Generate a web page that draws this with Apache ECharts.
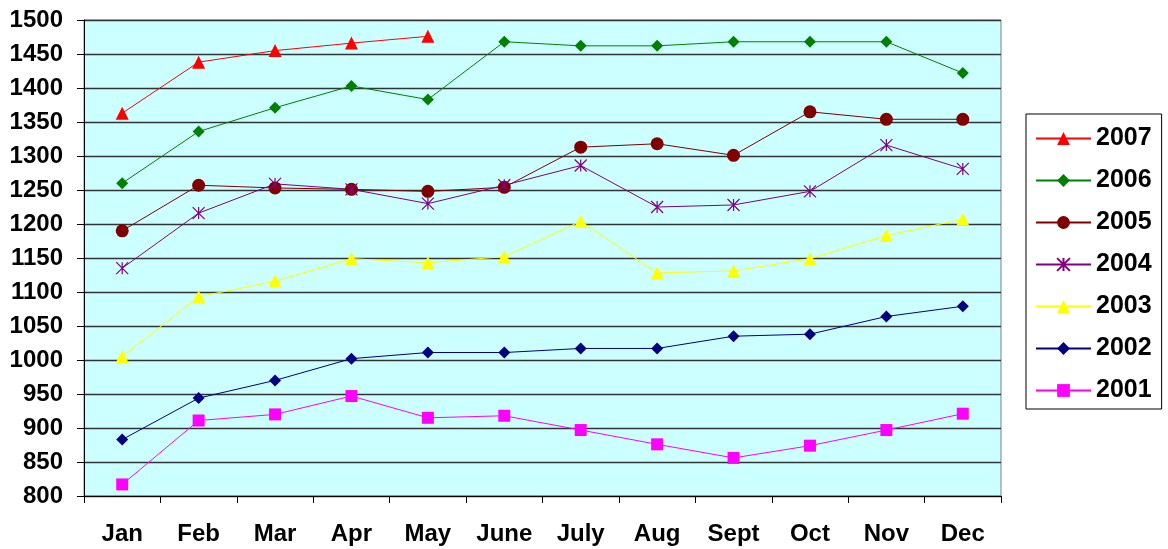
<!DOCTYPE html>
<html>
<head>
<meta charset="utf-8">
<script src="https://cdn.jsdelivr.net/npm/echarts@6/dist/echarts.min.js"></script>
<style>
  html, body { margin: 0; padding: 0; background: #fff; }
  #chart { width: 1168px; height: 549px; }
</style>
</head>
<body>
<div id="chart"></div>
<script>
// Monthly values per year
const months = ['Jan', 'Feb', 'Mar', 'Apr', 'May', 'June', 'July', 'Aug', 'Sept', 'Oct', 'Nov', 'Dec'];
const y2001 = [817, 911, 920, 947, 915, 918, 897, 876, 856, 874, 897, 921];
const y2002 = [883, 944, 970, 1002, 1011, 1011, 1017, 1017, 1035, 1038, 1064, 1079];
const y2003 = [1005, 1093, 1116, 1149, 1143, 1152, 1204, 1128, 1131, 1149, 1183, 1207];
const y2004 = [1135, 1216, 1259, 1251, 1230, 1257, 1286, 1225, 1228, 1248, 1316, 1281];
const y2005 = [1190, 1257, 1253, 1251, 1248, 1254, 1313, 1318, 1301, 1365, 1354, 1354];
const y2006 = [1260, 1336, 1371, 1403, 1383, 1468, 1462, 1462, 1468, 1468, 1468, 1422];
const y2007 = [1363, 1438, 1455, 1466, 1476];
const yTicks = { min: 800, max: 1500, step: 50 };

const font = '"Liberation Sans", Arial, sans-serif';
const asterisk = 'path://M0,0L12,12M12,0L0,12M6,0L6,12';

function lineSeries(name, data, color, symbol, size, extra) {
  return Object.assign({
    name: name,
    type: 'line',
    data: data,
    symbol: symbol,
    symbolSize: size,
    showAllSymbol: true,
    lineStyle: { color: color, width: 1 },
    itemStyle: { color: color },
    emphasis: { disabled: true },
    animation: false
  }, extra || {});
}

const series = [
  lineSeries('2001', y2001, '#FF00FF', 'rect', 12),
  lineSeries('2002', y2002, '#000080', 'diamond', 12),
  lineSeries('2003', y2003, '#FFFF00', 'triangle', 13),
  lineSeries('2005', y2005, '#800000', 'circle', 13),
  lineSeries('2004', y2004, '#800080', asterisk, 12,
    { itemStyle: { color: '#800080', borderColor: '#800080', borderWidth: 1.2 } }),
  lineSeries('2006', y2006, '#008000', 'diamond', 12),
  lineSeries('2007', y2007, '#FF0000', 'triangle', 13)
];

const chart = echarts.init(document.getElementById('chart'), null, { renderer: 'canvas' });
chart.setOption({
  animation: false,
  grid: {
    left: 84, right: 167, top: 20, bottom: 53,
    show: true,
    backgroundColor: '#CCFFFF',
    borderColor: '#808080',
    borderWidth: 1
  },
  legend: {
    orient: 'vertical',
    left: 1026,
    top: 114,
    width: 132,
    padding: [12, 10, 6, 9],
    itemGap: 17,
    itemWidth: 55,
    itemHeight: 16,
    borderColor: '#000',
    borderWidth: 1,
    backgroundColor: '#fff',
    data: ['2007', '2006', '2005', '2004', '2003', '2002', '2001'],
    textStyle: { fontFamily: font, fontSize: 25, fontWeight: 'bold', color: '#000' }
  },
  xAxis: {
    type: 'category',
    data: months,
    boundaryGap: true,
    axisLine: { lineStyle: { color: '#000', width: 1 } },
    axisTick: { show: true, length: 7, lineStyle: { color: '#000' } },
    axisLabel: { fontFamily: font, fontSize: 24, fontWeight: 'bold', color: '#000', margin: 26 },
    splitLine: { show: false }
  },
  yAxis: {
    type: 'value',
    min: yTicks.min,
    max: yTicks.max,
    interval: yTicks.step,
    axisLine: { show: true, lineStyle: { color: '#000', width: 1 } },
    axisTick: { show: true, length: 7, lineStyle: { color: '#000' } },
    axisLabel: {
      fontFamily: font, fontSize: 24, fontWeight: 'bold', color: '#000', margin: 21,
      formatter: function (v) { return String(v); }
    },
    splitLine: { show: true, lineStyle: { color: '#333', width: 1.3 } }
  },
  series: series
});
</script>
</body>
</html>
